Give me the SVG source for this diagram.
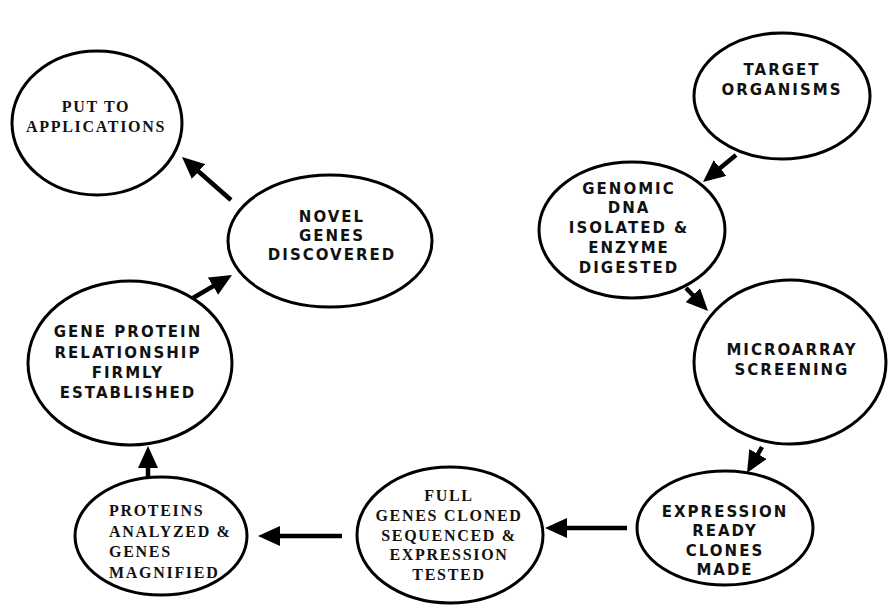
<svg xmlns="http://www.w3.org/2000/svg" width="888" height="605" viewBox="0 0 888 605">
  <defs>
    <marker id="head" markerUnits="userSpaceOnUse" markerWidth="22" markerHeight="20" refX="14" refY="10" orient="auto">
      <path d="M0,0 L22,10 L0,20 z" fill="#000"/>
    </marker>
    <style>
      .node ellipse { fill: #fff; stroke: #000; stroke-width: 3; }
      .sans { font-family: "DejaVu Sans", Verdana, sans-serif; font-weight: bold; font-size: 15px; letter-spacing: 2px; fill: #111; text-anchor: middle; }
      .serif { font-family: "Liberation Serif", "Times New Roman", serif; font-weight: bold; font-size: 16px; letter-spacing: 1.7px; fill: #111; text-anchor: middle; }
      .left { text-anchor: start; }
      #connectors line { stroke: #000; stroke-width: 4.5; marker-end: url(#head); }
    </style>
  </defs>
  <rect width="888" height="605" fill="#fff"/>

  <!-- connectors -->
  <g id="connectors">
    <line x1="231" y1="200" x2="188" y2="162.3"/>
    <line x1="736" y1="155" x2="709.2" y2="176.9"/>
    <line x1="686" y1="288" x2="702.5" y2="305.2"/>
    <line x1="762" y1="447" x2="751" y2="466.1"/>
    <line x1="627" y1="528" x2="553" y2="528"/>
    <line x1="342" y1="536" x2="266" y2="536"/>
    <line x1="148" y1="478" x2="148" y2="454"/>
    <line x1="193" y1="298" x2="225.1" y2="279.1"/>
  </g>

  <g id="put-to-applications" class="node">
    <ellipse cx="97" cy="123" rx="85" ry="72"/>
    <text class="serif" x="96" y="112">PUT TO</text>
    <text class="serif" x="96" y="132">APPLICATIONS</text>
  </g>

  <g id="novel-genes" class="node">
    <ellipse cx="330" cy="241" rx="102" ry="66"/>
    <text class="sans" x="332" y="222">NOVEL</text>
    <text class="sans" x="332" y="241">GENES</text>
    <text class="sans" x="332" y="260">DISCOVERED</text>
  </g>

  <g id="target-organisms" class="node">
    <ellipse cx="782" cy="96" rx="88" ry="63"/>
    <text class="sans" x="782" y="75">TARGET</text>
    <text class="sans" x="782" y="95">ORGANISMS</text>
  </g>

  <g id="genomic-dna" class="node">
    <ellipse cx="632" cy="230" rx="93" ry="68"/>
    <text class="sans" x="629" y="194">GENOMIC</text>
    <text class="sans" x="629" y="213">DNA</text>
    <text class="sans" x="629" y="233">ISOLATED &amp;</text>
    <text class="sans" x="629" y="253">ENZYME</text>
    <text class="sans" x="629" y="273">DIGESTED</text>
  </g>

  <g id="microarray" class="node">
    <ellipse cx="790" cy="362" rx="96" ry="82"/>
    <text class="sans" x="792" y="355">MICROARRAY</text>
    <text class="sans" x="792" y="375">SCREENING</text>
  </g>

  <g id="expression-clones" class="node">
    <ellipse cx="725" cy="528" rx="88" ry="57"/>
    <text class="sans" x="725" y="517">EXPRESSION</text>
    <text class="sans" x="725" y="536">READY</text>
    <text class="sans" x="725" y="556">CLONES</text>
    <text class="sans" x="725" y="575">MADE</text>
  </g>

  <g id="full-genes" class="node">
    <ellipse cx="450" cy="535" rx="93" ry="68"/>
    <text class="serif" x="449" y="501">FULL</text>
    <text class="serif" x="449" y="521">GENES CLONED</text>
    <text class="serif" x="449" y="541">SEQUENCED &amp;</text>
    <text class="serif" x="449" y="560">EXPRESSION</text>
    <text class="serif" x="449" y="580">TESTED</text>
  </g>

  <g id="proteins-analyzed" class="node">
    <ellipse cx="161" cy="536" rx="86" ry="59"/>
    <text class="serif left" x="109" y="516">PROTEINS</text>
    <text class="serif left" x="109" y="536.5">ANALYZED &amp;</text>
    <text class="serif left" x="109" y="557">GENES</text>
    <text class="serif left" x="109" y="577.5">MAGNIFIED</text>
  </g>

  <g id="gene-protein" class="node">
    <ellipse cx="130" cy="363" rx="102" ry="82"/>
    <text class="sans" x="128" y="337">GENE PROTEIN</text>
    <text class="sans" x="128" y="358">RELATIONSHIP</text>
    <text class="sans" x="128" y="378">FIRMLY</text>
    <text class="sans" x="128" y="398">ESTABLISHED</text>
  </g>
</svg>
